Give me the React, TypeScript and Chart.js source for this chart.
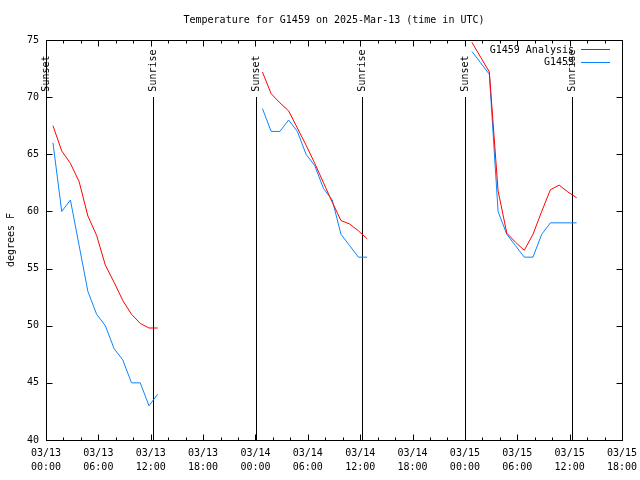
import React, { useEffect, useRef } from "react";
import { Chart, registerables } from "chart.js";

Chart.register(...registerables);

const TITLE = "Temperature for G1459 on 2025-Mar-13 (time in UTC)";
const Y_LABEL = "degrees F";
const FONT_FAMILY = "'DejaVu Sans Mono', 'Liberation Mono', monospace";

// x axis: hours since 2025-03-13 00:00 UTC
const X_MIN = 0;
const X_MAX = 66;
const tickDates = ["03/13", "03/13", "03/13", "03/13", "03/14", "03/14", "03/14", "03/14", "03/15", "03/15", "03/15", "03/15"];
const tickTimes = ["00:00", "06:00", "12:00", "18:00", "00:00", "06:00", "12:00", "18:00", "00:00", "06:00", "12:00", "18:00"];

const Y_MIN = 40;
const Y_MAX = 75;

// observation times (hours since 03/13 00:00 UTC)
const obsHours = [
  0.8, 1.8, 2.8, 3.8, 4.8, 5.8, 6.8, 7.8, 8.8, 9.8, 10.8, 11.8, 12.8,
  24.8, 25.8, 26.8, 27.8, 28.8, 29.8, 30.8, 31.8, 32.8, 33.8, 34.8, 35.8, 36.8,
  48.8, 49.8, 50.8, 51.8, 52.8, 53.8, 54.8, 55.8, 56.8, 57.8, 58.8, 59.8, 60.8,
];

const analysisTemps = [
  67.5, 65.3, 64.2, 62.6, 59.6, 57.9, 55.3, 53.8, 52.2, 51.0, 50.2, 49.8, 49.8,
  72.2, 70.3, 69.5, 68.8, 67.3, 65.8, 64.2, 62.5, 60.8, 59.2, 58.9, 58.3, 57.6,
  74.8, 73.5, 72.2, 61.8, 58.1, 57.3, 56.6, 58.0, 60.0, 61.9, 62.3, 61.7, 61.2,
];

const stationTemps = [
  66, 60, 61, 57, 53, 51, 50, 48, 47, 45, 45, 43, 44,
  69, 67, 67, 68, 67, 65, 64, 62, 61, 58, 57, 56, 56,
  74, 73, 72, 60, 58, 57, 56, 56, 58, 59, 59, 59, 59,
];

const sunsetHours = [0.03, 24.02, 48.0];
const sunriseHours = [12.27, 36.25, 60.23];
const SUN_LINE_TOP = 70;

const seriesNames = ["G1459 Analysis", "G1459"];
const seriesColors = ["#ff0000", "#0a84ff"];

function buildPoints(hours: number[], temps: number[]) {
  const pts: { x: number; y: number | null }[] = [];
  for (let i = 0; i < hours.length; i++) {
    if (i > 0 && hours[i] - hours[i - 1] > 2) {
      pts.push({ x: (hours[i] + hours[i - 1]) / 2, y: null });
    }
    pts.push({ x: hours[i], y: temps[i] });
  }
  return pts;
}

const FONT = `10px ${FONT_FAMILY}`;

const overlayPlugin = {
  id: "overlay",
  beforeDatasetsDraw(chart: any) {
    const { ctx, chartArea: a, scales } = chart;
    const x = scales.x;
    const y = scales.y;
    ctx.save();
    ctx.strokeStyle = "#000";
    ctx.fillStyle = "#000";
    ctx.lineWidth = 1;
    ctx.font = FONT;
    const top = y.getPixelForValue(SUN_LINE_TOP);
    const drawEvent = (h: number, label: string) => {
      const px = Math.round(x.getPixelForValue(h)) + 0.5;
      ctx.beginPath();
      ctx.moveTo(px, Math.round(top));
      ctx.lineTo(px, a.bottom);
      ctx.stroke();
      ctx.save();
      ctx.translate(px, top - 5.5);
      ctx.rotate(-Math.PI / 2);
      ctx.textAlign = "left";
      ctx.textBaseline = "middle";
      ctx.fillText(label, 0, 0);
      ctx.restore();
    };
    sunsetHours.forEach((h) => drawEvent(h, "Sunset"));
    sunriseHours.forEach((h) => drawEvent(h, "Sunrise"));
    ctx.restore();
  },
  afterDatasetsDraw(chart: any) {
    const { ctx, chartArea: a, scales } = chart;
    const x = scales.x;
    const y = scales.y;
    ctx.save();
    ctx.strokeStyle = "#000";
    ctx.fillStyle = "#000";
    ctx.lineWidth = 1;
    const L = Math.round(a.left) + 0.5;
    const R = Math.round(a.right) + 0.5;
    const T = Math.round(a.top) + 0.5;
    const B = Math.round(a.bottom) + 0.5;
    ctx.strokeRect(L, T, R - L, B - T);
    ctx.beginPath();
    for (let v = X_MIN; v <= X_MAX; v += 2) {
      const len = v % 6 === 0 ? 6 : 3;
      const px = Math.round(x.getPixelForValue(v)) + 0.5;
      ctx.moveTo(px, B);
      ctx.lineTo(px, B - len);
      ctx.moveTo(px, T);
      ctx.lineTo(px, T + len);
    }
    for (let v = Y_MIN; v <= Y_MAX; v += 5) {
      const py = Math.round(y.getPixelForValue(v)) + 0.5;
      ctx.moveTo(L, py);
      ctx.lineTo(L + 6, py);
      ctx.moveTo(R, py);
      ctx.lineTo(R - 6, py);
    }
    ctx.stroke();

    ctx.font = FONT;
    // title
    ctx.textAlign = "center";
    ctx.textBaseline = "middle";
    ctx.fillText(TITLE, (a.left + a.right) / 2, 20);
    // y label
    ctx.save();
    ctx.translate(11, (a.top + a.bottom) / 2);
    ctx.rotate(-Math.PI / 2);
    ctx.fillText(Y_LABEL, 0, 0);
    ctx.restore();

    // legend
    seriesNames.forEach((name, i) => {
      const ty = a.top + 10 + i * 12.5;
      ctx.textAlign = "right";
      ctx.textBaseline = "middle";
      ctx.fillStyle = "#000";
      ctx.fillText(name, a.right - 48, ty);
      ctx.strokeStyle = seriesColors[i];
      ctx.beginPath();
      ctx.moveTo(a.right - 41, Math.round(ty - 1) + 0.5);
      ctx.lineTo(a.right - 12, Math.round(ty - 1) + 0.5);
      ctx.stroke();
    });
    ctx.restore();
  },
};

export default function App() {
  const canvasRef = useRef<HTMLCanvasElement | null>(null);

  useEffect(() => {
    if (!canvasRef.current) return;
    const chart = new Chart(canvasRef.current, {
      type: "line",
      data: {
        datasets: [
          {
            label: seriesNames[0],
            data: buildPoints(obsHours, analysisTemps) as any,
            borderColor: seriesColors[0],
            backgroundColor: seriesColors[0],
            borderWidth: 1,
            pointRadius: 0,
            tension: 0,
            spanGaps: false,
            order: 0,
          },
          {
            label: seriesNames[1],
            data: buildPoints(obsHours, stationTemps) as any,
            borderColor: seriesColors[1],
            backgroundColor: seriesColors[1],
            borderWidth: 1,
            pointRadius: 0,
            tension: 0,
            spanGaps: false,
            order: 1,
          },
        ],
      },
      options: {
        responsive: false,
        animation: false,
        devicePixelRatio: 1,
        layout: { padding: { top: 40, right: 18, left: 0, bottom: 0 } },
        plugins: {
          legend: { display: false },
          tooltip: { enabled: false },
          title: { display: false },
        },
        scales: {
          x: {
            type: "linear",
            min: X_MIN,
            max: X_MAX,
            grid: { display: false, drawTicks: false },
            border: { display: false },
            ticks: {
              stepSize: 6,
              autoSkip: false,
              maxRotation: 0,
              minRotation: 0,
              padding: 6,
              color: "#000",
              font: { family: FONT_FAMILY, size: 10, lineHeight: 1.4 },
              callback: (v: any) => {
                const i = Math.round(Number(v) / 6);
                return [tickDates[i], tickTimes[i]];
              },
            },
            afterFit: (s: any) => {
              s.height = 40;
              s.paddingLeft = 0;
              s.paddingRight = 0;
            },
          },
          y: {
            min: Y_MIN,
            max: Y_MAX,
            grid: { display: false, drawTicks: false },
            border: { display: false },
            ticks: {
              stepSize: 5,
              padding: 7,
              color: "#000",
              font: { family: FONT_FAMILY, size: 10 },
            },
            afterFit: (s: any) => {
              s.width = 46;
              s.paddingTop = 0;
              s.paddingBottom = 0;
            },
          },
        },
      },
      plugins: [overlayPlugin],
    });
    return () => chart.destroy();
  }, []);

  return (
    <div style={{ position: "fixed", left: 0, top: 0, width: 640, height: 480, background: "#fff" }}>
      <canvas ref={canvasRef} width={640} height={480} style={{ width: 640, height: 480, display: "block" }} />
    </div>
  );
}
